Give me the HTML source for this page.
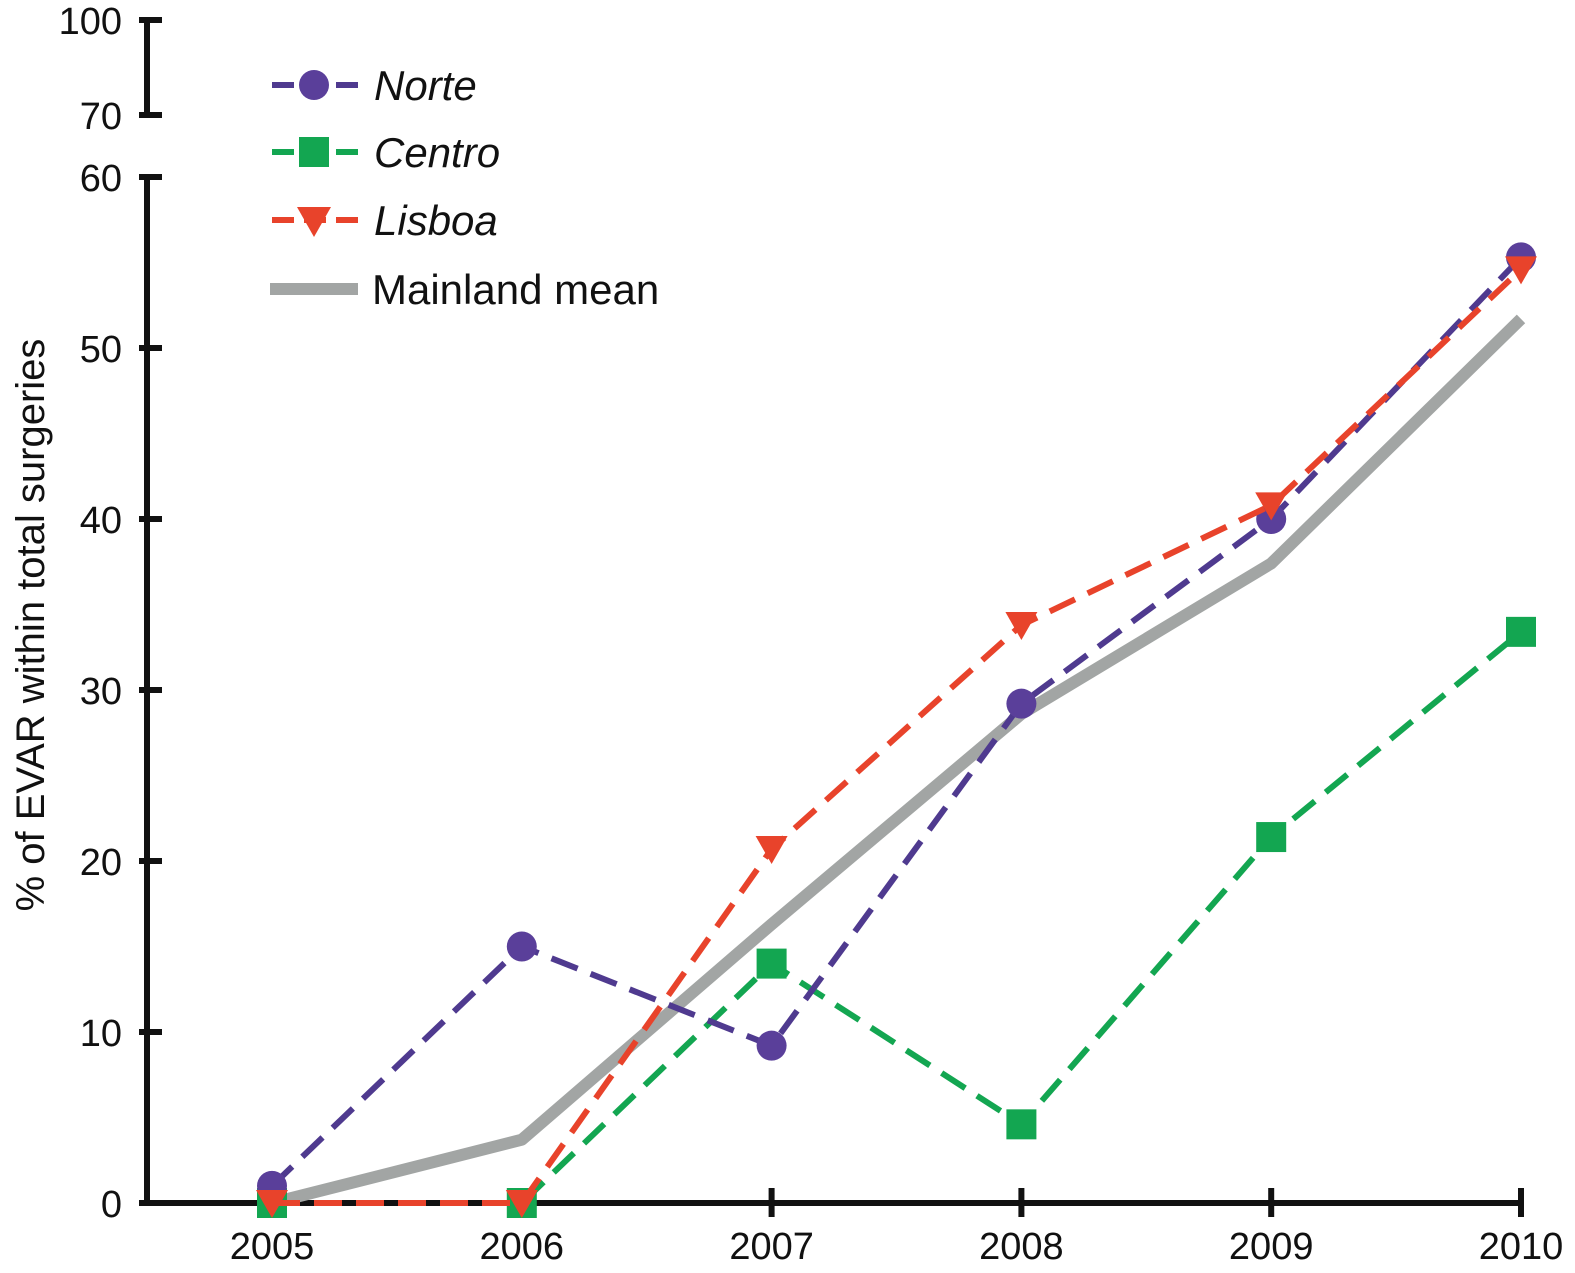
<!DOCTYPE html>
<html><head><meta charset="utf-8"><style>
html,body{margin:0;padding:0;background:#fff}
svg{display:block;font-family:"Liberation Sans",Arial,sans-serif}
</style></head><body>
<svg id="chart" width="1575" height="1273" viewBox="0 0 1575 1273">
<g id="axes"></g>
<g id="series"></g>
<text transform="translate(44,625) rotate(-90)" text-anchor="middle" font-size="40" fill="#111">% of EVAR within total surgeries</text>
<g>
 <g>
  <line x1="272" y1="85" x2="358" y2="85" stroke="#4f3a8f" stroke-width="6" stroke-dasharray="22,10"/>
  <circle cx="314" cy="85" r="15" fill="#5a3f9a"/>
  <text x="374" y="100" font-size="42" font-style="italic" fill="#111">Norte</text>
 </g>
 <g>
  <line x1="272" y1="152" x2="358" y2="152" stroke="#13a651" stroke-width="6" stroke-dasharray="22,10"/>
  <rect x="299" y="137" width="30" height="30" fill="#13a651"/>
  <text x="374" y="167" font-size="42" font-style="italic" fill="#111">Centro</text>
 </g>
 <g>
  <line x1="272" y1="220" x2="358" y2="220" stroke="#e8432b" stroke-width="6" stroke-dasharray="22,10"/>
  <polygon points="297,207 331,207 314,237" fill="#e8432b"/>
  <text x="374" y="235" font-size="42" font-style="italic" fill="#111">Lisboa</text>
 </g>
 <g>
  <line x1="270" y1="289" x2="358" y2="289" stroke="#a2a5a4" stroke-width="12"/>
  <text x="372" y="304" font-size="42" fill="#111">Mainland mean</text>
 </g>
</g>
</svg>
<script>
const years=[2005,2006,2007,2008,2009,2010];
const norte=[1.0,15.0,9.2,29.2,40.0,55.3];
const centro=[0,0,14.0,4.6,21.4,33.4];
const lisboa=[0,0,20.7,33.8,40.8,54.6];
const mainland=[0,3.7,16.3,28.6,37.4,51.7];
const yTicks=[0,10,20,30,40,50,60];
const upperTicks=[70,100];

const NS='http://www.w3.org/2000/svg';
function X(yr){return 272+(yr-2005)*249.8;}
function Y(v){return 1203-v*17.1;}
function mk(tag,attrs,parent){const e=document.createElementNS(NS,tag);for(const k in attrs)e.setAttribute(k,attrs[k]);parent.appendChild(e);return e;}
const axes=document.getElementById('axes');
const ser=document.getElementById('series');

let a=mk('line',{x1:147,y1:Y(60),x2:147,y2:1206,stroke:'#111','stroke-width':6},axes);


yTicks.forEach(t=>{
 const tk=mk('line',{x1:139,y1:Y(t),x2:162,y2:Y(t),stroke:'#111','stroke-width':6},axes);
 
 
 const lb=mk('text',{x:122,y:Y(t)+14,'text-anchor':'end','font-size':38,fill:'#111'},axes);
 lb.textContent=t;
 
 
});
function UY(v){return 115-(v-70)*(95/30);}
a=mk('line',{x1:147,y1:UY(100),x2:147,y2:UY(70),stroke:'#111','stroke-width':6},axes);


upperTicks.forEach(t=>{
 const tk=mk('line',{x1:139,y1:UY(t),x2:162,y2:UY(t),stroke:'#111','stroke-width':6},axes);
 
 
 const lb=mk('text',{x:122,y:UY(t)+14,'text-anchor':'end','font-size':38,fill:'#111'},axes);
 lb.textContent=t;
 
 
});
a=mk('line',{x1:144,y1:1203,x2:X(2010)+3,y2:1203,stroke:'#111','stroke-width':6},axes);


years.forEach(yr=>{
 const tk=mk('line',{x1:X(yr),y1:1188,x2:X(yr),y2:1217,stroke:'#111','stroke-width':6},axes);
 
 
 const lb=mk('text',{x:X(yr),y:1259,'text-anchor':'middle','font-size':38,fill:'#111'},axes);
 lb.textContent=yr;
 
 
});

function pts(arr){return arr.map((v,i)=>X(years[i])+','+Y(v)).join(' ');}
let l=mk('polyline',{points:pts(mainland),fill:'none',stroke:'#a2a5a4','stroke-width':12,'stroke-linejoin':'round'},ser);


l=mk('polyline',{points:pts(centro),fill:'none',stroke:'#13a651','stroke-width':6,'stroke-dasharray':'28,14'},ser);


centro.forEach((v,i)=>{
 const m=mk('rect',{x:X(years[i])-15,y:Y(v)-15,width:30,height:30,fill:'#13a651'},ser);
 
 
});
l=mk('polyline',{points:pts(norte),fill:'none',stroke:'#4f3a8f','stroke-width':6,'stroke-dasharray':'28,14'},ser);


norte.forEach((v,i)=>{
 const m=mk('circle',{cx:X(years[i]),cy:Y(v),r:15,fill:'#5a3f9a'},ser);
 
 
});
l=mk('polyline',{points:pts(lisboa),fill:'none',stroke:'#e8432b','stroke-width':6,'stroke-dasharray':'28,14'},ser);


lisboa.forEach((v,i)=>{
 const x=X(years[i]),y=Y(v);
 const m=mk('polygon',{points:(x-16)+','+(y-13)+' '+(x+16)+','+(y-13)+' '+x+','+(y+15),fill:'#e8432b'},ser);
 
 
});
</script>
</body></html>
